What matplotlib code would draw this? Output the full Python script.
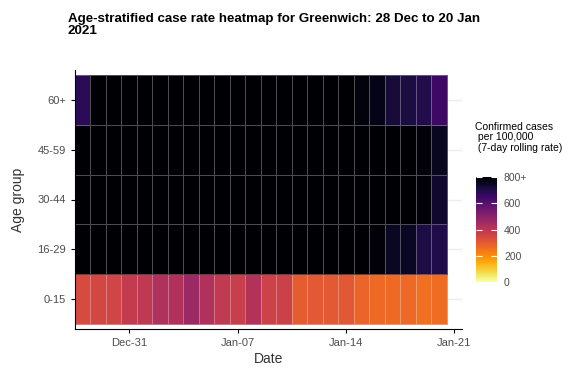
import numpy as np
import pandas as pd
import matplotlib
matplotlib.use("Agg")
import matplotlib.pyplot as plt
import matplotlib.dates as mdates

plt.rcParams['font.family'] = ['Liberation Sans', 'DejaVu Sans']

# data (7-day rolling rate per 100,000); >800 shown as black
dates = pd.date_range('2020-12-28', '2021-01-20')
age_groups = ['0-15', '16-29', '30-44', '45-59', '60+']
rate_0_15 = [336, 344, 352, 384, 392, 424, 424, 464, 424, 388, 372, 416,
             360, 364, 296, 300, 300, 304, 276, 268, 264, 266, 256, 260]
rate_16_29 = [1150, 1230, 1320, 1410, 1480, 1540, 1580, 1600, 1590, 1560, 1510, 1440,
              1360, 1270, 1180, 1090, 1000, 920, 850, 785, 752, 752, 704, 700]
rate_30_44 = [980, 1040, 1110, 1180, 1240, 1290, 1330, 1350, 1350, 1330, 1290, 1240,
              1180, 1110, 1050, 990, 940, 900, 870, 850, 830, 815, 785, 736]
rate_45_59 = [860, 920, 990, 1060, 1120, 1180, 1230, 1270, 1300, 1310, 1300, 1270,
              1220, 1160, 1100, 1040, 980, 930, 880, 850, 830, 810, 785, 756]
rate_60_plus = [680, 830, 870, 910, 950, 980, 1010, 1040, 1060, 1070, 1080, 1060,
                1030, 990, 950, 900, 860, 820, 784, 768, 720, 712, 696, 648]

rates = np.array([rate_0_15, rate_16_29, rate_30_44, rate_45_59, rate_60_plus])
rates = np.clip(rates, 0, 800)

fig = plt.figure(figsize=(5.81, 3.72), dpi=100)
ax = fig.add_axes([75 / 581, 43 / 372, 387 / 581, 259 / 372])

x_num = mdates.date2num(dates)
x_edges = np.append(x_num - 0.5, x_num[-1] + 0.5)
y_edges = np.arange(len(age_groups) + 1) - 0.5

mesh = ax.pcolormesh(x_edges, y_edges, rates, cmap='inferno_r', vmin=0, vmax=800,
                     edgecolors=(1, 1, 1, 0.3), linewidth=0.7, zorder=2)

ax.set_xlim(x_num[0] - 0.5, x_num[-1] + 1.5)
ax.set_ylim(-0.6, len(age_groups) - 0.4)
ax.set_yticks(range(len(age_groups)))
ax.set_yticklabels(age_groups)
ax.xaxis.set_major_locator(mdates.DayLocator(bymonthday=[7, 14, 21, 31]))
ax.xaxis.set_major_formatter(mdates.DateFormatter('%b-%d'))

ax.grid(axis='y', color='#EEEEE4', linewidth=1, zorder=0)
ax.set_axisbelow(True)
for side in ['top', 'right']:
    ax.spines[side].set_visible(False)
ax.tick_params(labelsize=8, labelcolor='#4D4D4D', length=3, width=0.8)
ax.set_xlabel('Date', fontsize=10, color='#333333', labelpad=3)
ax.set_ylabel('Age group', fontsize=10, color='#333333', labelpad=9)

cax = fig.add_axes([476 / 581, 90 / 372, 21 / 581, 105 / 372])
cb = fig.colorbar(mesh, cax=cax)
cb.outline.set_visible(False)
cb.set_ticks([0, 200, 400, 600, 800])
cb.set_ticklabels(['0', '200', '400', '600', '800+'])
cax.tick_params(color='white', direction='in', length=4, width=0.8,
                left=True, right=True, labelsize=7.5, labelcolor='#4D4D4D', pad=5)

fig.text(475 / 581, 1 - 122 / 372, 'Confirmed cases\n per 100,000\n (7-day rolling rate)',
         fontsize=7.5, va='top', ha='left', linespacing=1.05)

fig.text(68 / 581, 1 - 13 / 372,
         'Age-stratified case rate heatmap for Greenwich: 28 Dec to 20 Jan\n2021',
         fontsize=9.6, fontweight='bold', va='top', ha='left', linespacing=0.95)

fig.savefig('out.png', dpi=100)
